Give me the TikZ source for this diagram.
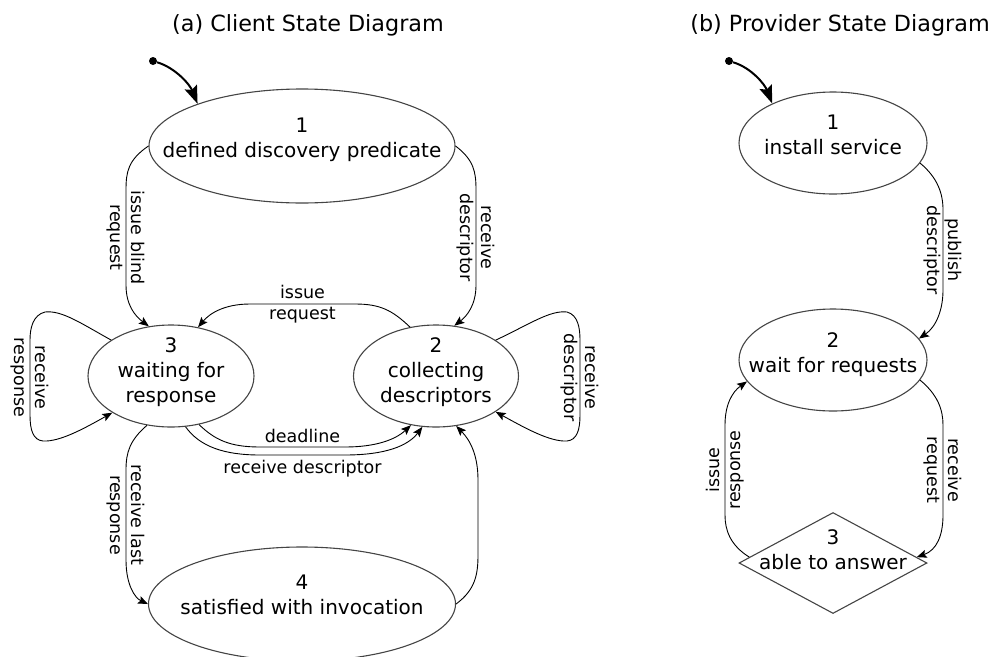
\documentclass[tikz,border=0pt]{standalone}
\usepackage{fontspec}
\setmainfont{DejaVu Sans}
\usetikzlibrary{shapes.geometric,arrows.meta}
\definecolor{stategray}{RGB}{68,68,68}
\begin{document}
\begin{tikzpicture}[x=1pt,y=-1pt,
  stateshape/.style={ellipse, draw=stategray, line width=1.1pt, inner sep=0pt},
  decshape/.style={diamond, draw=stategray, line width=1.1pt, inner sep=0pt},
  statetext/.style={align=center, font=\fontsize{20}{25}\selectfont, inner sep=0pt},
  titletext/.style={anchor=base, font=\fontsize{22.3}{27}\selectfont, inner sep=0pt},
  lbl/.style={align=center, font=\fontsize{17.5}{21}\selectfont, inner sep=0pt},
  trans/.style={draw=black, line width=0.9pt, -{Stealth[length=10pt,width=8pt,inset=2pt]}},
  initarrow/.style={draw=black, line width=2pt, -{Stealth[length=18pt,width=13pt,inset=3pt]}},
  initdot/.style={circle, fill=black, inner sep=0pt, minimum size=8pt}
]
\useasboundingbox (0,0) rectangle (995,656);

% titles
\node[titletext] (ta) at (308,31.5) {(a) Client State Diagram};
\node[titletext] (tb) at (840,31.5) {(b) Provider State Diagram};

% ---------- (a) client ----------
\node[stateshape, minimum width=306pt, minimum height=114pt] (n1) at (302,146) {};
\node[statetext] (n1t) at (302,139.5) {1\\defined discovery predicate};
\node[stateshape, minimum width=166pt, minimum height=102pt] (n3) at (171,376) {};
\node[statetext] (n3t) at (171,372) {3\\waiting for\\response};
\node[stateshape, minimum width=165pt, minimum height=102pt] (n2) at (436,376) {};
\node[statetext] (n2t) at (436,372) {2\\collecting\\descriptors};
\node[stateshape, minimum width=307pt, minimum height=114pt] (n4) at (302,604) {};
\node[statetext] (n4t) at (302,595) {4\\satisfied with invocation};

\node[initdot] (s1) at (153,61) {};
\draw[initarrow] (s1) .. controls (176,68) and (190,85) .. (n1.158);

% 1 -> 3
\draw[trans] (n1.west) .. controls (128,160) and (126,172) .. (126,190)
  -- node[lbl, rotate=-90] {issue blind\\request} (126,285)
  .. controls (126,305) and (135,316) .. (n3.114);
% 1 -> 2
\draw[trans] (n1.east) .. controls (474,160) and (476,172) .. (476,190)
  -- node[lbl, rotate=-90] {receive\\descriptor} (476,285)
  .. controls (476,305) and (467,316) .. (n2.70);
% 2 -> 3 issue request
\draw[trans] (n2.118) .. controls (392,310) and (380,304) .. (355,304)
  -- node[lbl] {issue\\request} (250,304)
  .. controls (225,304) and (210,313) .. (n3.61);
% 3 -> 2 deadline
\draw[trans] (n3.-60) .. controls (215,440) and (230,447) .. (260,447)
  -- node[lbl, anchor=base, yshift=5pt] {deadline} (345,447)
  .. controls (375,447) and (395,440) .. (n2.-117);
% 3 -> 2 receive descriptor
\draw[trans] (n3.-74) .. controls (200,447) and (225,455) .. (260,455)
  -- node[lbl, anchor=base, yshift=-18pt] {receive descriptor} (345,455)
  .. controls (385,455) and (408,446) .. (n2.-105);
% 3 -> 4
\draw[trans] (n3.-116) .. controls (130,440) and (126,452) .. (126,470)
  -- node[lbl, rotate=-90] {receive last\\response} (126,560)
  .. controls (126,585) and (135,598) .. (n4.west);
% 4 -> 2
\draw[trans] (n4.east) .. controls (475,590) and (478,575) .. (478,555)
  -- (478,480)
  .. controls (478,455) and (470,440) .. (n2.-68);
% loop on 3
\draw[trans] (n3.149) .. controls (82,324) and (62,310) .. (45,312)
  .. controls (33,315) and (30,328) .. (30,340)
  -- node[lbl, rotate=-90] {receive\\response} (30,415)
  .. controls (30,430) and (33,440) .. (43,441)
  .. controls (60,442) and (85,428) .. (n3.-148);
% loop on 2
\draw[trans] (n2.31) .. controls (530,324) and (550,310) .. (567,312)
  .. controls (578,315) and (580,328) .. (580,340)
  -- node[lbl, rotate=-90] {receive\\descriptor} (580,415)
  .. controls (580,430) and (577,440) .. (567,441)
  .. controls (550,442) and (525,428) .. (n2.-31);

% ---------- (b) provider ----------
\node[stateshape, minimum width=188pt, minimum height=102pt] (b1) at (833,143) {};
\node[statetext] (b1t) at (833,135) {1\\install service};
\node[stateshape, minimum width=188pt, minimum height=102pt] (b2) at (833,360) {};
\node[statetext] (b2t) at (833,354.5) {2\\wait for requests};
\node[decshape, minimum width=188pt, minimum height=101pt] (b3) at (833,563) {};
\node[statetext] (b3t) at (833,550) {3\\able to answer};

\node[initdot] (s2) at (729,61) {};
\draw[initarrow] (s2) .. controls (752,68) and (765,85) .. (b1.147);

% 1 -> 2 publish
\draw[trans] (b1.-13) .. controls (938,178) and (943,194) .. (943,210)
  -- node[lbl, rotate=-90] {publish\\descriptor} (943,290)
  .. controls (943,310) and (936,327) .. (b2.14);
% 2 -> 3 receive request
\draw[trans] (b2.-13) .. controls (938,395) and (943,410) .. (943,425)
  -- node[lbl, rotate=-90] {receive\\request} (943,515)
  .. controls (943,535) and (937,550) .. (b3.4);
% 3 -> 2 issue response
\draw[trans] (b3.176) .. controls (730,545) and (725,530) .. (725,515)
  -- node[lbl, rotate=90] {issue\\response} (725,425)
  .. controls (725,405) and (732,392) .. (b2.194);
\end{tikzpicture}
\end{document}
